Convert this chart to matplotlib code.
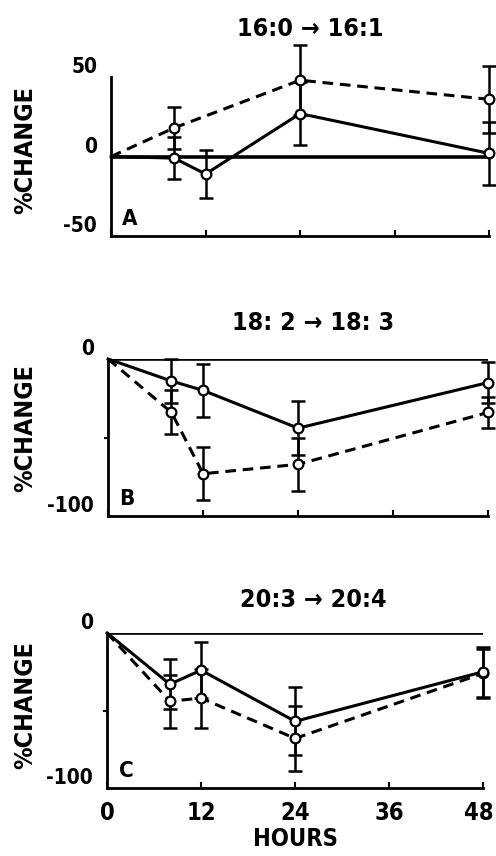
import matplotlib

matplotlib.use("Agg")

import matplotlib.pyplot as plt
from matplotlib.transforms import ScaledTranslation

# values (% change vs hours)
hours = [0, 8, 12, 24, 48]

a_solid = [0, -1, -11, 27, 2]
a_solid_err = [0, 13, 15, 20, 20]
a_dash_hours = [0, 8, 24, 48]
a_dash = [0, 18, 48, 36]
a_dash_err = [0, 13, 22, 21]

b_solid = [0, -14, -20, -44, -15]
b_solid_err = [0, 14, 17, 17, 13]
b_dash = [0, -34, -73, -67, -34]
b_dash_err = [0, 14, 17, 17, 10]

c_solid = [0, -33, -24, -57, -25]
c_solid_err = [0, 16, 18, 22, 16]
c_dash = [0, -44, -42, -68, -26]
c_dash_err = [0, 17, 19, 21, 16]

titles = ["16:0 \u2192 16:1", "18: 2 \u2192 18: 3", "20:3 \u2192 20:4"]
letters = ["A", "B", "C"]
yticks_list = [[-50, 0, 50], [-100, 0], [-100, 0]]
ylims = [(-50, 50), (-100, 0), (-100, 0)]
xticks = [0, 12, 24, 36, 48]

plt.rcParams["font.family"] = ["Liberation Sans Narrow", "DejaVu Sans"]
plt.rcParams["font.weight"] = "bold"
plt.rcParams["font.stretch"] = "condensed"
plt.rcParams["axes.labelweight"] = "bold"

rects = [
    [0.224, 0.7243, 0.762, 0.1857],
    [0.218, 0.397, 0.766, 0.1836],
    [0.216, 0.0794, 0.758, 0.1811],
]
title_pos = [(0.526, 1.30), (0.54, 1.23), (0.548, 1.21)]
ylabel_y = [0.54, 0.56, 0.535]


def draw_series(ax, x, y, err, dashed):
    ls = (0, (3.5, 2.2)) if dashed else "-"
    ax.plot(x, y, color="black", lw=2.2, linestyle=ls, zorder=3, clip_on=False)
    ax.errorbar(x[1:], y[1:], yerr=err[1:], fmt="none", ecolor="black",
                elinewidth=1.8, capsize=5, capthick=1.8, zorder=3, clip_on=False)
    ax.plot(x[1:], y[1:], linestyle="none", marker="o", ms=7, mfc="white",
            mec="black", mew=1.6, zorder=4, clip_on=False)


fig = plt.figure(figsize=(4.96, 8.56), dpi=100)

series = [
    ((hours, a_solid, a_solid_err), (a_dash_hours, a_dash, a_dash_err)),
    ((hours, b_solid, b_solid_err), (hours, b_dash, b_dash_err)),
    ((hours, c_solid, c_solid_err), (hours, c_dash, c_dash_err)),
]

for i, rect in enumerate(rects):
    ax = fig.add_axes(rect)
    ax.set_xlim(0, 48)
    ax.set_ylim(*ylims[i])
    ax.axhline(0, color="black", lw=2.6, zorder=2)

    solid, dashed = series[i]
    draw_series(ax, *dashed, dashed=True)
    draw_series(ax, *solid, dashed=False)

    for side in ("top", "right"):
        ax.spines[side].set_visible(False)
    for side in ("left", "bottom"):
        ax.spines[side].set_linewidth(2.0)

    ax.set_xticks(xticks)
    ax.tick_params(axis="x", direction="in", length=4, width=1.5)
    if i < 2:
        ax.set_xticklabels([])
    else:
        ax.set_xticklabels([str(t) for t in xticks], fontsize=17)
        ax.tick_params(axis="x", pad=9)
        ax.set_xlabel("HOURS", fontsize=17, labelpad=2)
        # last label sits a touch left of its tick in the original
        last = ax.get_xticklabels()[-1]
        last.set_transform(last.get_transform()
                           + ScaledTranslation(-3 / 72, 0, fig.dpi_scale_trans))

    ax.set_yticks(yticks_list[i])
    ax.set_yticklabels([str(t) for t in yticks_list[i]], fontsize=15)
    ax.tick_params(axis="y", length=0, pad=10)
    for lab in ax.get_yticklabels():
        lab.set_va("bottom")
    if i > 0:
        ax.set_yticks([-50], minor=True)
        ax.tick_params(axis="y", which="minor", direction="out", length=3, width=1.5)

    tx, ty = title_pos[i]
    ax.text(tx, ty, titles[i], transform=ax.transAxes, ha="center", va="center",
            fontsize=18)
    ax.text(0.05, 0.11, letters[i], transform=ax.transAxes, ha="center",
            va="center", fontsize=16)

    bbox = ax.get_position()
    fig.text(0.05, bbox.y0 + ylabel_y[i] * bbox.height, "%CHANGE", rotation=90,
             ha="center", va="center", fontsize=18)

fig.savefig("out.png", dpi=100)
